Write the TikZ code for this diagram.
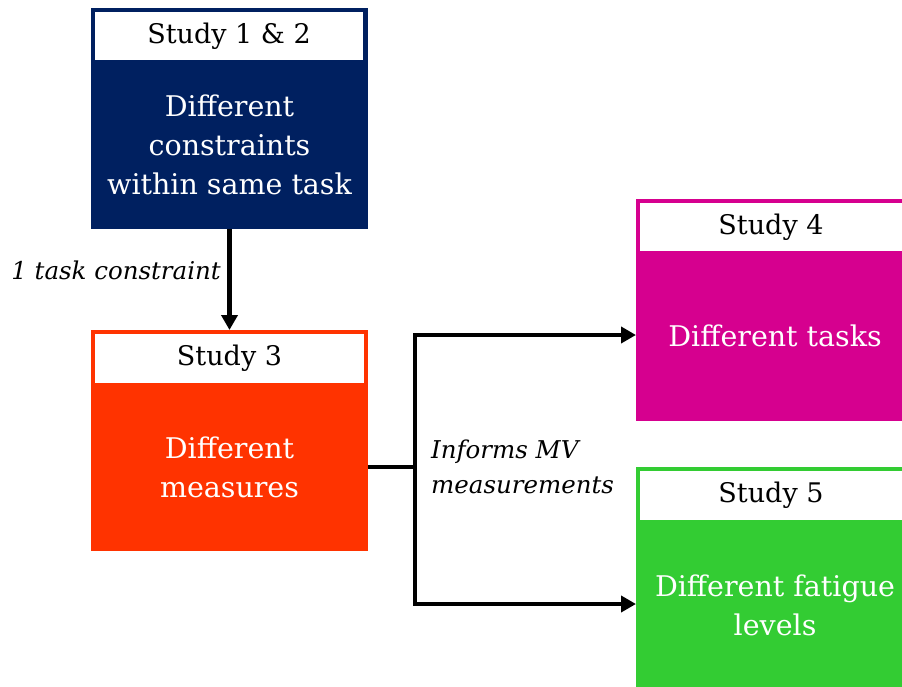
\documentclass[tikz,border=0pt]{standalone}
\usepackage{fontspec}
\setmainfont{DejaVu Serif}
\usetikzlibrary{arrows.meta}
\definecolor{navyc}{RGB}{0,32,96}
\definecolor{orangec}{RGB}{255,51,0}
\definecolor{magc}{RGB}{214,0,143}
\definecolor{greenc}{RGB}{51,204,51}
\tikzset{
  body/.style={anchor=north west, inner sep=0pt, outer sep=0pt},
  head/.style={anchor=north west, fill=white, inner sep=0pt, outer sep=0pt, font=\fontsize{27}{32}\selectfont, text=black},
  btext/.style={align=center, text=white, font=\fontsize{28.5}{39}\selectfont},
  lbl/.style={font=\fontsize{24.5}{35}\selectfont\itshape, inner sep=0pt},
  conn/.style={line width=4.6pt, black},
  arr/.style={conn, -{Triangle[length=15pt, width=16pt]}}
}
\begin{document}
\begin{tikzpicture}[x=1pt,y=-1pt]
\useasboundingbox (0,0) rectangle (902,687);
% Study 1 & 2
\node[body, fill=navyc, minimum width=277pt, minimum height=221pt] (b1) at (91,8) {};
\node[head, minimum width=268pt, minimum height=48pt] (h1) at (95,12) {Study 1 \& 2};
\node[btext] (t1) at (229.5,145) {Different\\constraints\\within same task};
% Study 3
\node[body, fill=orangec, minimum width=277pt, minimum height=221pt] (b3) at (91,330) {};
\node[head, minimum width=269pt, minimum height=49pt] (h3) at (95,334) {Study 3};
\node[btext] (t3) at (229.5,467) {Different\\measures};
% Study 4
\node[body, fill=magc, minimum width=266pt, minimum height=222pt] (b4) at (636,199) {};
\node[head, minimum width=262pt, minimum height=48pt] (h4) at (640,203) {Study 4};
\node[btext] (t4) at (775,336) {Different tasks};
% Study 5
\node[body, fill=greenc, minimum width=266pt, minimum height=220pt] (b5) at (636,467) {};
\node[head, minimum width=262pt, minimum height=49pt] (h5) at (640,471) {Study 5};
\node[btext] (t5) at (775,605) {Different fatigue\\levels};
% connectors
\draw[arr] (b1.south) -- (b3.north);
\node[lbl, anchor=east] (l1) at (221,270) {1 task constraint};
\coordinate (j) at (415,467);
\coordinate (ja) at (415,335);
\coordinate (jb) at (415,604);
\draw[conn] (b3.east |- j) -- (j);
\draw[arr] (j) -- (ja) -- (b4.west |- ja);
\draw[arr] (j) -- (jb) -- (b5.west |- jb);
\node[lbl, anchor=west, align=left] (l2) at (431,467) {Informs MV\\measurements};
\end{tikzpicture}
\end{document}
